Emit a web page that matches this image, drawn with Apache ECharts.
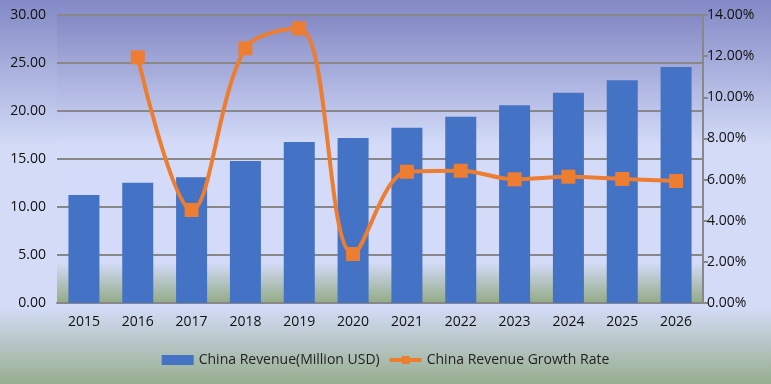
<!DOCTYPE html>
<html>
<head>
<meta charset="utf-8">
<script src="https://cdn.jsdelivr.net/npm/echarts@6/dist/echarts.min.js"></script>
<style>
html,body{margin:0;padding:0;}
#chart{width:771px;height:384px;}
</style>
</head>
<body>
<div id="chart"></div>
<script>
var categories = ['2015','2016','2017','2018','2019','2020','2021','2022','2023','2024','2025','2026'];
var revenue = [11.25, 12.53, 13.10, 14.80, 16.77, 17.20, 18.26, 19.40, 20.60, 21.90, 23.20, 24.58];
var growthRate = [null, 11.94, 4.52, 12.38, 13.35, 2.38, 6.38, 6.43, 6.01, 6.14, 6.03, 5.93];
var leftTicks = {min: 0, max: 30, interval: 5};
var rightTicks = {min: 0, max: 14, interval: 2};

var font = '"Open Sans", "Noto Sans", sans-serif';
var chart = echarts.init(document.getElementById('chart'));
chart.setOption({
  backgroundColor: new echarts.graphic.LinearGradient(0, 0, 0, 1, [
    {offset: 0, color: '#8289c5'},
    {offset: 0.38, color: '#d3dbf7'},
    {offset: 0.8, color: '#d3dbf7'},
    {offset: 1, color: '#97ae8e'}
  ]),
  textStyle: {fontFamily: font},
  grid: {
    left: 57, right: 68, top: 15, bottom: 81,
    show: true, borderWidth: 0,
    backgroundColor: new echarts.graphic.LinearGradient(0, 0, 0, 1, [
      {offset: 0, color: '#8489c5'},
      {offset: 0.45, color: '#d3dbf8'},
      {offset: 0.86, color: '#d3dbf8'},
      {offset: 1, color: '#93aa86'}
    ])
  },
  legend: {
    bottom: 12,
    left: 'center',
    itemWidth: 32, itemHeight: 10, itemGap: 8,
    textStyle: {fontFamily: font, fontSize: 14, color: '#222'},
    data: [
      {name: 'China Revenue(Million USD)', icon: 'rect'},
      {name: 'China Revenue Growth Rate', lineStyle: {width: 4}}
    ]
  },
  xAxis: {
    type: 'category',
    data: categories,
    axisLine: {show: true, lineStyle: {color: '#888', width: 2}},
    axisTick: {show: false},
    axisLabel: {color: '#111', fontSize: 14, margin: 12, fontFamily: font}
  },
  yAxis: [
    {
      type: 'value',
      min: leftTicks.min, max: leftTicks.max, interval: leftTicks.interval,
      axisLine: {show: false},
      axisTick: {show: false},
      splitLine: {show: true, lineStyle: {color: '#888', width: 2}},
      axisLabel: {color: '#111', fontSize: 14, margin: 11, fontFamily: font,
        formatter: function (v) { return v.toFixed(2); }}
    },
    {
      type: 'value',
      min: rightTicks.min, max: rightTicks.max, interval: rightTicks.interval,
      position: 'right',
      axisLine: {show: true, lineStyle: {color: '#888', width: 2}},
      axisTick: {show: true, length: 5, lineStyle: {color: '#888', width: 2}},
      splitLine: {show: false},
      axisLabel: {color: '#111', fontSize: 14, margin: 4, fontFamily: font,
        formatter: function (v) { return v.toFixed(2) + '%'; }}
    }
  ],
  series: [
    {
      name: 'China Revenue(Million USD)',
      type: 'bar',
      data: revenue,
      barWidth: 31,
      itemStyle: {color: '#4472c4'},
      yAxisIndex: 0
    },
    {
      name: 'China Revenue Growth Rate',
      type: 'line',
      data: growthRate,
      yAxisIndex: 1,
      smooth: 0.35,
      symbol: 'rect',
      symbolSize: 14,
      lineStyle: {color: '#ed7d31', width: 4},
      itemStyle: {color: '#ed7d31'}
    }
  ]
});
</script>
</body>
</html>
